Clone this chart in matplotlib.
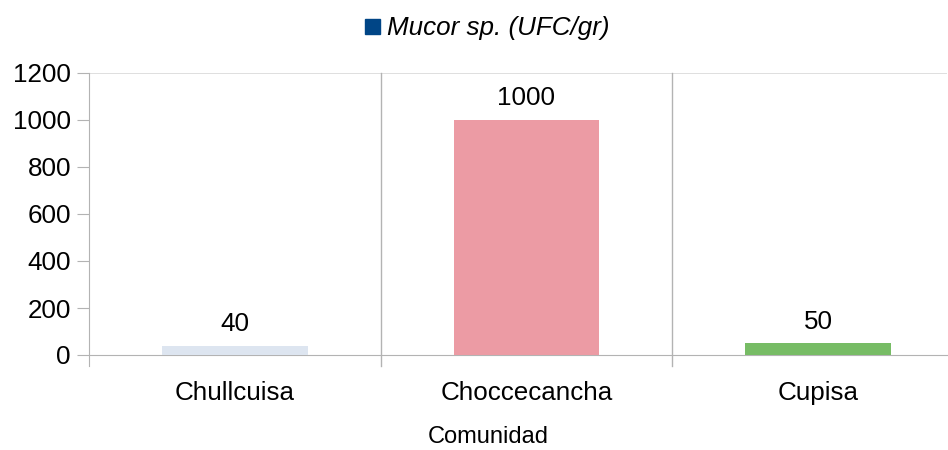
import matplotlib
matplotlib.use("Agg")
import matplotlib.pyplot as plt
from matplotlib.patches import Rectangle

categories = ["Chullcuisa", "Choccecancha", "Cupisa"]
values = [40, 1000, 50]
bar_colors = ["#dde5f0", "#ec9ba4", "#77bc65"]
series_name = "Mucor sp. (UFC/gr)"
yticks = [0, 200, 400, 600, 800, 1000, 1200]
xlabel = "Comunidad"

plt.rcParams['font.family'] = ['Liberation Sans', 'DejaVu Sans']

W, H = 948, 450
fig = plt.figure(figsize=(W/100, H/100), dpi=100)
left, right, top, bottom = 89, 947, 73, 355
ax = fig.add_axes([left/W, 1-bottom/H, (right-left)/W, (bottom-top)/H])

x = list(range(len(categories)))
ax.bar(x, values, width=0.5, color=bar_colors, zorder=3)
ax.set_xlim(-0.5, 2.5 - (964-947)/292)
ax.set_ylim(0, 1200)

gray = "#b3b3b3"
for s in ["top", "right"]:
    ax.spines[s].set_visible(False)
ax.spines["left"].set_color(gray)
ax.spines["bottom"].set_color(gray)
ax.spines["left"].set_bounds(-47, 1200)

ax.axhline(1200, color="#d9d9d9", lw=1.2, zorder=1)
for b in [0.5, 1.5]:
    ax.plot([b, b], [-47, 1200], color=gray, lw=1, clip_on=False, zorder=1)

ax.set_yticks(yticks)
ax.set_yticklabels([str(t) for t in yticks], fontsize=18.7)
ax.tick_params(axis="y", length=9, color=gray, pad=4)
ax.set_xticks(x)
ax.set_xticklabels(categories, fontsize=18.7)
ax.tick_params(axis="x", length=0, pad=18.5)

for xi, v in zip(x, values):
    ax.annotate(str(v), (xi, v), xytext=(0, 7), textcoords="offset points",
                ha="center", va="bottom", fontsize=18.7)

fig.text(488.5/W, 1-437/H, xlabel, fontsize=17, ha="center", va="center")

# legend
fig.patches.append(Rectangle((365/W, 1-34/H), 15/W, 15/H, transform=fig.transFigure,
                             color="#004586", figure=fig))
fig.text(387/W, 1-28/H, series_name, fontsize=18.7, style="italic", va="center", ha="left")

fig.savefig("out.png", dpi=100)
